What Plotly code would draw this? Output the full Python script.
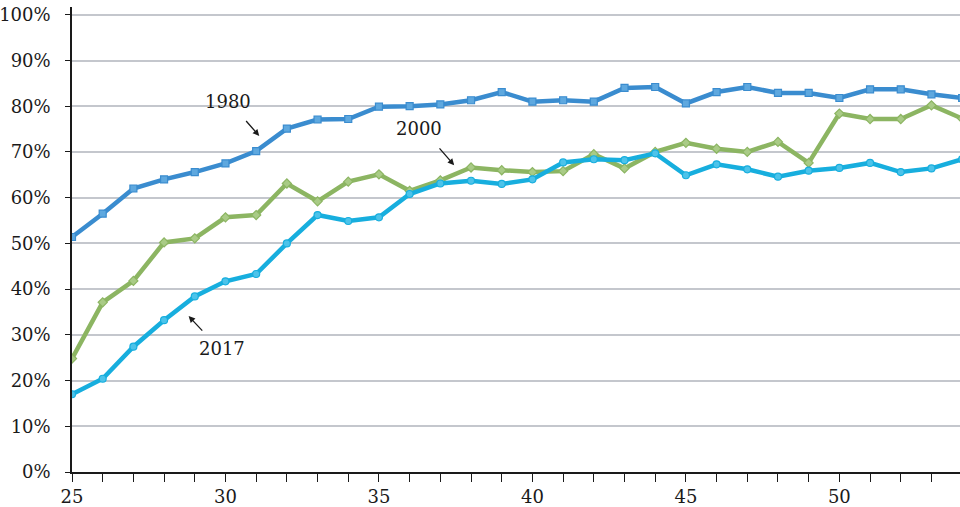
import plotly.graph_objects as go

ages = list(range(25, 55))
y1980 = [51.4, 56.5, 62.0, 64.0, 65.6, 67.5, 70.2, 75.1, 77.1, 77.2,
         79.9, 80.0, 80.4, 81.3, 83.1, 81.0, 81.3, 81.0, 84.0, 84.2,
         80.6, 83.1, 84.2, 82.9, 82.9, 81.8, 83.7, 83.7, 82.6, 81.8]
y2000 = [24.8, 37.1, 41.8, 50.2, 51.1, 55.7, 56.2, 63.1, 59.2, 63.5,
         65.1, 61.5, 63.8, 66.6, 66.0, 65.6, 65.8, 69.5, 66.4, 70.0,
         72.0, 70.7, 70.0, 72.2, 67.6, 78.4, 77.2, 77.2, 80.2, 77.3]
y2017 = [17.0, 20.4, 27.4, 33.2, 38.4, 41.7, 43.3, 50.0, 56.2, 54.9,
         55.7, 60.8, 63.1, 63.7, 63.0, 64.0, 67.7, 68.4, 68.2, 69.7,
         64.9, 67.3, 66.2, 64.6, 65.9, 66.5, 67.6, 65.6, 66.4, 68.4]

yticks = [0, 10, 20, 30, 40, 50, 60, 70, 80, 90, 100]
ytick_labels = [f"{v}%" for v in yticks]
xticks = [25, 30, 35, 40, 45, 50]

font_family = "DejaVu Serif"

fig = go.Figure()

series = [
    ("1980", y1980, "#3a8ccf", "#5ea8df", "square", 7),
    ("2000", y2000, "#8cb562", "#a9cb86", "diamond", 7),
    ("2017", y2017, "#17aede", "#4cc3ea", "circle", 7),
]
for name, ys, lc, mc, sym, ms in series:
    fig.add_trace(go.Scatter(
        x=ages, y=ys, name=name, mode="lines+markers",
        line=dict(color=lc, width=4.5),
        marker=dict(symbol=sym, size=ms, color=mc, line=dict(color=lc, width=1.2)),
        showlegend=False, cliponaxis=True,
    ))

# labels with arrows
labels = [
    ("1980", 30.08, 81.1, 30.63, 77.1, 31.1, 73.5),
    ("2000", 36.31, 75.1, 36.93, 71.1, 37.45, 67.1),
    ("2017", 29.9, 27.0, 29.29, 30.6, 28.8, 34.1),
]
for txt, tx, ty, ax_, ay_, hx, hy in labels:
    fig.add_annotation(x=tx, y=ty, text=txt, showarrow=False,
                       font=dict(family=font_family, size=18, color="#1a1a1a"))
    fig.add_annotation(x=hx, y=hy, ax=ax_, ay=ay_, axref="x", ayref="y",
                       text="", showarrow=True, arrowhead=2, arrowsize=1,
                       arrowwidth=1.3, arrowcolor="#1a1a1a", standoff=0)

fig.update_layout(
    width=960, height=507,
    margin=dict(l=72, r=0, t=7, b=35, autoexpand=False),
    paper_bgcolor="white", plot_bgcolor="white",
    font=dict(family=font_family, size=18, color="#1a1a1a"),
)
fig.update_xaxes(
    range=[25, 53.93], tickmode="array", tickvals=list(range(25, 55)),
    ticktext=[str(v) if v in xticks else "" for v in range(25, 55)],
    ticks="outside", ticklen=8, tickwidth=1.2, tickcolor="#1a1a1a",
    showline=True, linecolor="#1a1a1a", linewidth=1.5,
    showgrid=False, zeroline=False, automargin=False,
)
fig.update_yaxes(
    range=[0, 101.7], tickmode="array", tickvals=yticks, ticktext=ytick_labels,
    ticks="outside", ticklen=5, tickwidth=1.2, tickcolor="#1a1a1a",
    showline=True, linecolor="#1a1a1a", linewidth=1.5,
    showgrid=True, gridcolor="#c4c7cd", gridwidth=2, zeroline=False,
    ticklabelstandoff=11, automargin=False,
)

fig.write_html("out.html", config={"displayModeBar": False},
               post_script="document.body.style.margin='0px';")
